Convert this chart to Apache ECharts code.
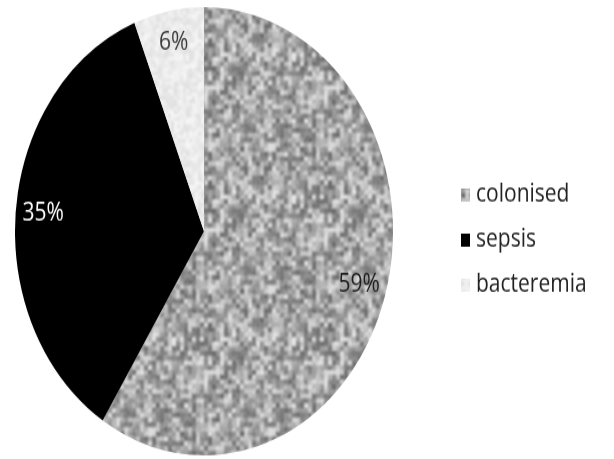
<!DOCTYPE html>
<html>
<head>
<meta charset="utf-8">
<script src="https://cdn.jsdelivr.net/npm/echarts@6/dist/echarts.min.js"></script>
<style>
  html, body { margin: 0; padding: 0; background: #fff; overflow: hidden; }
  #wrap { width: 614px; height: 459px; overflow: hidden; }
  /* the chart is drawn on a flatter canvas and stretched vertically, giving the oval pie */
  #chart { width: 614px; height: 387px; transform: scaleY(1.186); transform-origin: 0 0; }
</style>
</head>
<body>
<div id="wrap"><div id="chart"></div></div>
<script>
// Share of patients per outcome (percent)
const categories = ['colonised', 'sepsis', 'bacteremia'];
const shares = [59, 35, 6];

const sliceColors = ['#a8a8a8', '#000000', '#ececec'];
const labelColors = ['#1e1e1e', '#ffffff', '#3a3a3a'];

// Granite-like grey texture used for the light slices
function graniteTexture(size, lo, hi, cell) {
  const hash = (x, y) => {
    let n = Math.imul(x, 374761393) + Math.imul(y, 668265263);
    n = Math.imul(n ^ (n >>> 13), 1274126177);
    return ((n ^ (n >>> 16)) >>> 0) / 4294967295;
  };
  const tile = document.createElement('canvas');
  tile.width = tile.height = size;
  const tctx = tile.getContext('2d');
  const img = tctx.createImageData(size, size);
  for (let y = 0; y < size; y++) {
    for (let x = 0; x < size; x++) {
      const coarse = hash(Math.floor(x / cell), Math.floor(y / cell) + 1000);
      const fine = hash(x, y);
      const v = Math.round(lo + (hi - lo) * (0.7 * coarse + 0.3 * fine));
      const i = (y * size + x) * 4;
      img.data[i] = img.data[i + 1] = img.data[i + 2] = v;
      img.data[i + 3] = 255;
    }
  }
  tctx.putImageData(img, 0, 0);
  // tile 3x3 so the blur wraps cleanly at the edges
  const big = document.createElement('canvas');
  big.width = big.height = size * 3;
  const bctx = big.getContext('2d');
  for (let i = 0; i < 3; i++) for (let j = 0; j < 3; j++) bctx.drawImage(tile, i * size, j * size);
  const out = document.createElement('canvas');
  out.width = out.height = size;
  const octx = out.getContext('2d');
  octx.filter = 'blur(1.3px)';
  octx.drawImage(big, -size, -size);
  return out;
}

const fills = [
  { image: graniteTexture(120, 85, 250, 4), repeat: 'repeat' },
  sliceColors[1],
  { image: graniteTexture(120, 218, 252, 3), repeat: 'repeat' }
];

const center = [204, 195];
const radius = 189;

const chart = echarts.init(document.getElementById('chart'), null, { renderer: 'canvas' });
chart.setOption({
  animation: false,
  backgroundColor: '#ffffff',
  legend: {
    orient: 'vertical',
    left: 456,
    top: 149,
    itemWidth: 9,
    itemHeight: 11,
    itemGap: 17,
    icon: 'rect',
    selectedMode: false,
    data: categories,
    textStyle: { fontFamily: 'Open Sans', fontSize: 21, color: '#222', padding: [0, 0, 0, 1] }
  },
  series: [
    {
      type: 'pie',
      center: center,
      radius: radius,
      startAngle: 90,
      clockwise: true,
      silent: true,
      label: { show: false },
      labelLine: { show: false },
      emphasis: { disabled: true },
      itemStyle: { borderWidth: 0 },
      data: categories.map((name, i) => ({
        name: name,
        value: shares[i],
        itemStyle: { color: fills[i] }
      }))
    },
    {
      // label ring: places the percentage labels toward the rim
      type: 'pie',
      center: center,
      radius: [128, radius],
      startAngle: 90,
      clockwise: true,
      silent: true,
      legendHoverLink: false,
      emphasis: { disabled: true },
      itemStyle: { color: 'rgba(0,0,0,0)', borderWidth: 0 },
      labelLine: { show: false },
      label: {
        show: true,
        position: 'inside',
        formatter: '{c}%',
        fontFamily: 'Open Sans',
        fontSize: 21
      },
      data: categories.map((name, i) => ({
        name: name,
        value: shares[i],
        label: { color: labelColors[i] }
      }))
    }
  ]
});
</script>
</body>
</html>
